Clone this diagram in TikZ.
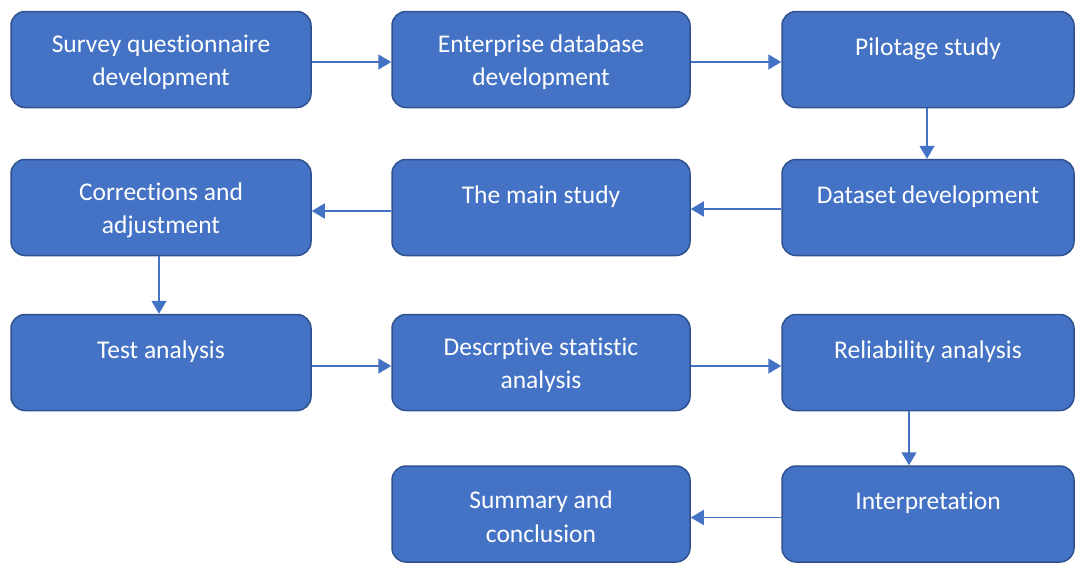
\documentclass[tikz,border=0pt]{standalone}
\usepackage{fontspec}
\usetikzlibrary{arrows.meta}
\newfontfamily\stagefont[Ligatures=NoCommon]{Carlito}
\definecolor{boxblue}{HTML}{4472C4}
\definecolor{edgeblue}{HTML}{2F528F}
\definecolor{lineblue}{HTML}{4472C4}
% taller first line, so two-line labels sit a little lower in their box
\newcommand{\firstline}{\rule{0pt}{23pt}}
\begin{document}
\begin{tikzpicture}[x=1pt,y=-1pt,
  stage/.style={rectangle, rounded corners=14pt, fill=boxblue, draw=edgeblue,
    line width=1.5pt, minimum width=298pt, minimum height=96pt, inner sep=0pt,
    text=white, align=center, font={\stagefont\fontsize{25.5}{33.5}\selectfont}},
  oneline/.style={text height=16pt, text depth=25pt},
  flow/.style={draw=lineblue, line width=1.5pt, -{Triangle[length=13pt,width=15pt]}}]
\useasboundingbox (0,0) rectangle (1075,562);

% row 1
\node[stage, minimum width=300pt] (survey) at (161,59.5) {\firstline Survey questionnaire\\development};
\node[stage] (enterprise) at (541,59.5) {\firstline Enterprise database\\development};
\node[stage, oneline, minimum width=292pt] (pilot) at (928,59.5) {Pilotage study};
% row 2
\node[stage, minimum width=300pt] (correct) at (161,207.5) {\firstline Corrections and\\adjustment};
\node[stage, oneline] (mainstudy) at (541,207.5) {The main study};
\node[stage, oneline, minimum width=292pt] (dataset) at (928,207.5) {Dataset development};
% row 3
\node[stage, oneline, minimum width=300pt] (test) at (161,362.5) {Test analysis};
\node[stage] (descr) at (541,362.5) {\firstline Descrptive statistic\\analysis};
\node[stage, oneline, minimum width=292pt] (reliab) at (928,362.5) {Reliability analysis};
% row 4
\node[stage] (summary) at (541,514) {\firstline Summary and\\conclusion};
\node[stage, oneline, minimum width=292pt] (interp) at (928,514) {Interpretation};

% connectors
\draw[flow] ([yshift=-2.5pt]survey.east) -- ([yshift=-2.5pt]enterprise.west);
\draw[flow] ([yshift=-2.5pt]enterprise.east) -- ([yshift=-2.5pt]pilot.west);
\draw[flow] ([xshift=-1pt]pilot.south) -- ([xshift=-1pt]dataset.north);
\draw[flow] ([yshift=-1.5pt]dataset.west) -- ([yshift=-1.5pt]mainstudy.east);
\draw[flow] ([yshift=-3.5pt]mainstudy.west) -- ([yshift=-3.5pt]correct.east);
\draw[flow] ([xshift=-2pt]correct.south) -- ([xshift=-2pt]test.north);
\draw[flow] ([yshift=-3.5pt]test.east) -- ([yshift=-3.5pt]descr.west);
\draw[flow] ([yshift=-3.5pt]descr.east) -- ([yshift=-3.5pt]reliab.west);
\draw[flow] ([xshift=-19pt]reliab.south) -- ([xshift=-19pt]interp.north);
\draw[flow] ([yshift=-3.5pt]interp.west) -- ([yshift=-3.5pt]summary.east);
\end{tikzpicture}
\end{document}
